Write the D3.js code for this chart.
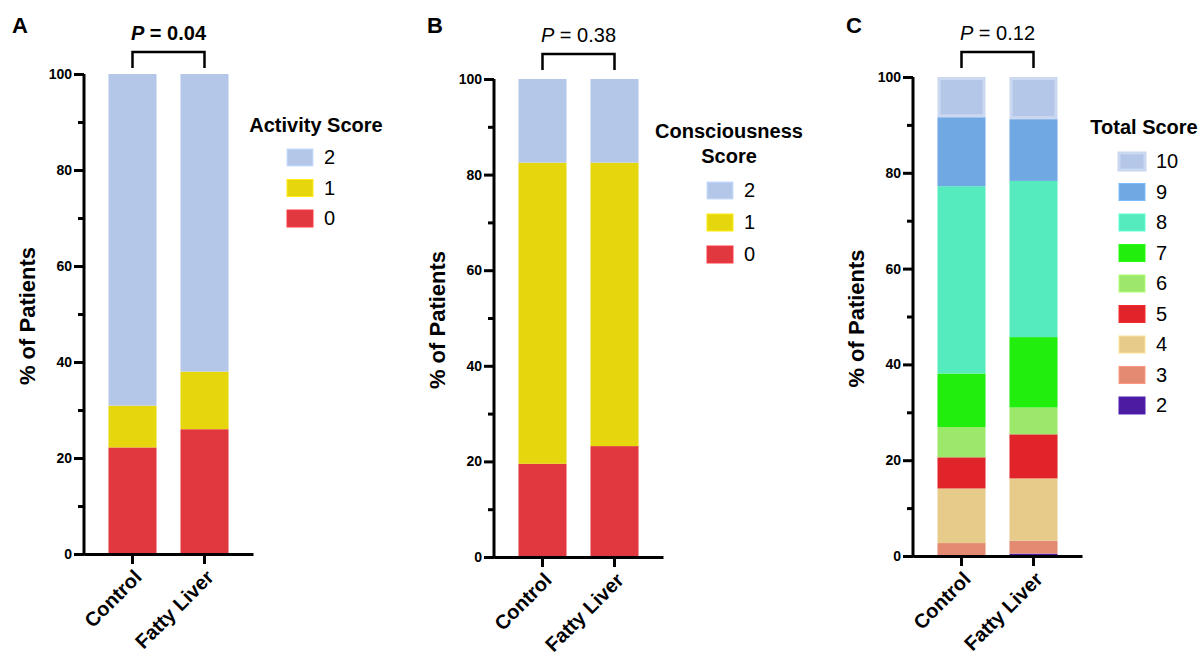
<!DOCTYPE html>
<html>
<head>
<meta charset="utf-8">
<script src="https://cdn.jsdelivr.net/npm/d3@7"></script>
<style>
  body { margin: 0; background: #fff; }
  svg { display: block; font-family: "Liberation Sans", Arial, Helvetica, sans-serif; }
</style>
</head>
<body>
<div id="chart"></div>
<script>
// stacked % bars, three panels

const groups = ["Control", "Fatty Liver"];

const activityKeys = ["0", "1", "2"];
const activityControl = [22.2, 8.7, 69.1];
const activityFatty = [26.0, 12.0, 62.0];

const consciousnessKeys = ["0", "1", "2"];
const consciousnessControl = [19.5, 63.0, 17.5];
const consciousnessFatty = [23.2, 59.3, 17.5];

const totalKeys = ["2", "3", "4", "5", "6", "7", "8", "9", "10"];
const totalControl = [0, 2.7, 11.4, 6.5, 6.3, 11.2, 39.1, 14.4, 8.4];
const totalFatty = [0.5, 2.7, 13.0, 9.2, 5.6, 14.7, 32.6, 12.9, 8.8];

const pValues = ["0.04", "0.38", "0.12"];
const majorTicks = [0, 20, 40, 60, 80, 100];
const minorTicks = [10, 30, 50, 70, 90];

const scoreColors = { "0": "#e1373f", "1": "#e6d60e", "2": "#b4c7e8" };
const totalColors = {
    "2": "#4b1ca2", "3": "#e48a73", "4": "#e6cb8a", "5": "#e02429", "6": "#9de86b",
    "7": "#22ee0d", "8": "#55ebbe", "9": "#70a8e4", "10": "#b5c7e8"
};

const W = 1199, H = 655;
const svg = d3.select("#chart").append("svg").attr("width", W).attr("height", H);
svg.append("rect").attr("width", W).attr("height", H).attr("fill", "#fff");

function drawPanel(cfg) {
    const g = svg.append("g");
    const rows = groups.map((name, i) => {
        const r = { group: name };
        cfg.keys.forEach((k, j) => { r[k] = cfg.values[i][j]; });
        return r;
    });
    const series = d3.stack().keys(cfg.keys)(rows);

    const x = d3.scaleBand().domain(groups).range([cfg.left, cfg.right])
        .paddingInner(0.333).paddingOuter(0.34);
    const y = d3.scaleLinear().domain([0, 100]).range([cfg.bottom, cfg.top]);

    // bars
    series.forEach(s => {
        const isTen = s.key === "10";
        g.selectAll(null).data(s).enter().append("rect")
            .attr("x", d => x(d.data.group) + (isTen ? 1.5 : 0))
            .attr("y", d => y(d[1]) + (isTen ? 1.5 : 0))
            .attr("width", x.bandwidth() - (isTen ? 3 : 0))
            .attr("height", d => Math.max(0, y(d[0]) - y(d[1]) - (isTen ? 3 : 0)))
            .attr("fill", cfg.colors[s.key])
            .attr("stroke", isTen ? "#cad8f0" : "none")
            .attr("stroke-width", isTen ? 3 : 0);
    });

    // y axis
    g.append("g").attr("transform", `translate(${cfg.left},0)`)
        .call(d3.axisLeft(y).tickValues(minorTicks).tickSize(6).tickFormat("").tickSizeOuter(0))
        .call(a => a.select(".domain").remove())
        .call(a => a.selectAll(".tick line").attr("stroke", "#000").attr("stroke-width", 3));
    g.append("g").attr("transform", `translate(${cfg.left},0)`)
        .call(d3.axisLeft(y).tickValues(majorTicks).tickSize(10).tickPadding(2).tickSizeOuter(0))
        .call(a => a.select(".domain").attr("stroke", "#000").attr("stroke-width", 3)
            .attr("d", `M0,${cfg.bottom + 1.5}V${cfg.top}`))
        .call(a => a.selectAll(".tick line").attr("stroke", "#000").attr("stroke-width", 3))
        .call(a => a.selectAll(".tick text").attr("fill", "#000")
            .style("font-size", "14px").style("font-weight", "bold")
            .style("font-family", "Liberation Sans, Arial, sans-serif"));

    // x axis
    g.append("g").attr("transform", `translate(0,${cfg.bottom})`)
        .call(d3.axisBottom(x).tickSize(10).tickSizeOuter(0).tickPadding(2))
        .call(a => a.select(".domain").attr("stroke", "#000").attr("stroke-width", 3))
        .call(a => a.selectAll(".tick line").attr("stroke", "#000").attr("stroke-width", 3))
        .call(a => a.selectAll(".tick text").attr("fill", "#000")
            .style("font-size", "20px").style("font-weight", "bold")
            .style("font-family", "Liberation Sans, Arial, sans-serif")
            .attr("text-anchor", "end").attr("dy", "0.35em")
            .attr("transform", "translate(-3,11) rotate(-45)"));

    // y label
    g.append("text")
        .attr("transform", `translate(${cfg.left - 57},${(cfg.top + cfg.bottom) / 2 + 2}) rotate(-90)`)
        .attr("text-anchor", "middle").attr("dy", "0.35em")
        .style("font-size", "22px").style("font-weight", "bold")
        .text("% of Patients");

    // panel letter
    g.append("text").attr("x", cfg.letterX).attr("y", 33)
        .style("font-size", "22px").style("font-weight", "bold").text(cfg.letter);

    // significance bracket
    const c0 = x("Control") + x.bandwidth() / 2, c1 = x("Fatty Liver") + x.bandwidth() / 2;
    g.append("path")
        .attr("d", `M${c0},${cfg.bracketY + 16}V${cfg.bracketY}H${c1}V${cfg.bracketY + 16}`)
        .attr("fill", "none").attr("stroke", "#000").attr("stroke-width", 2.5);
    const pt = g.append("text").attr("x", (c0 + c1) / 2).attr("y", cfg.bracketY - 12)
        .attr("text-anchor", "middle").style("font-size", "20px")
        .style("font-weight", cfg.boldP ? "bold" : "normal");
    pt.append("tspan").style("font-style", "italic").text("P");
    pt.append("tspan").text(" = " + cfg.p);

    // legend
    const lg = g.append("g");
    cfg.title.forEach((line, i) => {
        lg.append("text").attr("x", cfg.legendTitleX).attr("y", cfg.legendTitleY + i * 25)
            .attr("text-anchor", "middle")
            .style("font-size", "20px").style("font-weight", "bold").text(line);
    });
    const legendKeys = cfg.keys.slice().reverse();
    legendKeys.forEach((k, i) => {
        const cy = cfg.legendY + i * cfg.legendStep;
        lg.append("rect").attr("x", cfg.legendX).attr("y", cy - 8).attr("width", 26).attr("height", 17)
            .attr("fill", cfg.colors[k])
            .attr("stroke", k === "10" ? "#cad8f0" : d3.color(cfg.colors[k]).brighter(0.3))
            .attr("stroke-width", k === "10" ? 3 : 1);
        lg.append("text").attr("x", cfg.legendX + 37).attr("y", cy).attr("dy", "0.36em")
            .style("font-size", "20px").text(k);
    });
}

drawPanel({
    letter: "A", letterX: 12, keys: activityKeys, values: [activityControl, activityFatty],
    colors: scoreColors, left: 84, right: 253, top: 74, bottom: 554,
    bracketY: 52, p: pValues[0], boldP: true,
    title: ["Activity Score"], legendTitleX: 316, legendTitleY: 132,
    legendX: 287, legendY: 157, legendStep: 30.5
});

drawPanel({
    letter: "B", letterX: 427, keys: consciousnessKeys, values: [consciousnessControl, consciousnessFatty],
    colors: scoreColors, left: 494, right: 663, top: 79, bottom: 557,
    bracketY: 54, p: pValues[1], boldP: false,
    title: ["Consciousness", "Score"], legendTitleX: 729, legendTitleY: 138,
    legendX: 707, legendY: 190, legendStep: 32
});

drawPanel({
    letter: "C", letterX: 846, keys: totalKeys, values: [totalControl, totalFatty],
    colors: totalColors, left: 913, right: 1082, top: 77, bottom: 556,
    bracketY: 52, p: pValues[2], boldP: false,
    title: ["Total Score"], legendTitleX: 1144, legendTitleY: 134,
    legendX: 1119, legendY: 161, legendStep: 30.5
});
</script>
</body>
</html>
